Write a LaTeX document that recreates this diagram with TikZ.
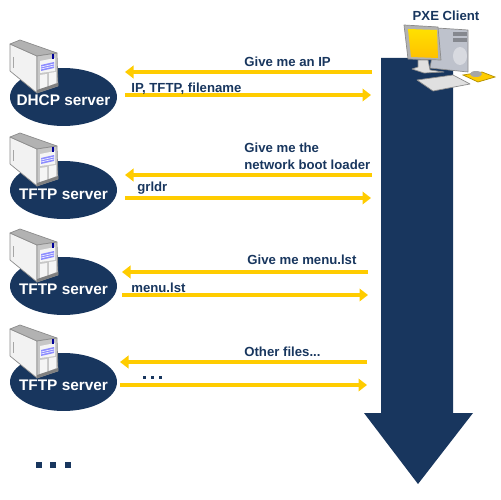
\documentclass[tikz,border=0pt]{standalone}
\usepackage{fontspec}
\setmainfont{Liberation Sans}
\usetikzlibrary{arrows.meta,positioning,shapes.geometric}
\definecolor{navy}{RGB}{24,54,94}
\definecolor{ambr}{RGB}{255,204,0}
\definecolor{silver}{RGB}{190,194,204}
\tikzset{
  srvell/.style ={draw=none, ellipse, fill=navy, minimum width=21.4mm,
                  minimum height=11.6mm, inner sep=0pt},
  srvlbl/.style ={font=\fontsize{8.75}{10}\bfseries\selectfont, text=white,
                  inner sep=0pt},
  msg/.style    ={font=\fontsize{7.5}{9.6}\bfseries\selectfont, text=navy,
                  inner sep=0pt, align=left, anchor=south west},
  req/.style    ={-{Triangle[length=1.7mm,width=2.5mm]}, line width=0.8mm, ambr},
  casing/.style ={draw=black!45, line width=0.4pt, line join=round},
  server/.pic   ={
    \filldraw[casing, fill=black!5] (0,0) -- (27,12) -- (27,49) -- (0,27) -- cycle;
    \filldraw[casing, fill=black!30] (0,0) -- (10,-4) -- (47,9) -- (27,12) -- cycle;
    \filldraw[casing, fill=black!22] (27,12) -- (47,9) -- (48,42) -- (27,49) -- cycle;
    \fill[black!4] (30,17) -- (45,14) -- (45,27) -- (30,29) -- cycle;
    \fill[black!4] (30,31) -- (37,30) -- (37,43) -- (30,45) -- cycle;
    \fill[black!4] (39,29) -- (46,28) -- (46,39) -- (39,42) -- cycle;
    \fill[black!50] (27,46) -- (48,39) -- (48,42) -- (27,49) -- cycle;
    \fill[blue!45] (31,21) -- (44,18) -- (44,24) -- (31,27) -- cycle;
    \draw[white, line width=0.3pt] (31,23) -- (44,20) (31,25) -- (44,22);
    \fill[blue!60!black] (41.5,10) rectangle (43.5,15);
    \draw[black!35] (3,13) -- (3,24);
  },
}
\begin{document}
\begin{tikzpicture}[x=0.02cm,y=-0.02cm]
  \useasboundingbox (0,0) rectangle (500,500);
  % ---- big downward arrow behind the client
  \fill[navy] (381,58) -- (453,58) -- (453,413) -- (473,413)
    -- (418,484) -- (364,413) -- (381,413) -- cycle;
  % ---- client machine
  \node[font=\fontsize{7.5}{9}\bfseries\selectfont, text=navy, inner sep=0pt]
    (client) at (446,16) {PXE Client};
  \filldraw[casing, fill=silver] (437,28) -- (468,30) -- (468,72) -- (430,68) -- cycle;
  \fill[silver!70!black] (453,32) rectangle (467,36.5);
  \fill[silver!70!black] (453,38) rectangle (467,42.5);
  \fill[silver!60] (460,56) ellipse (7 and 9);
  \filldraw[casing, fill=black!12] (418,60) -- (428,60) -- (430,70) -- (444,72)
    -- (424,73) -- (412,69) -- (418,67) -- cycle;
  \filldraw[casing, fill=black!30] (404,25) -- (438,27) -- (441,60) -- (408,59) -- cycle;
  \shade[top color=ambr!60!yellow, bottom color=ambr!85!orange]
    (408,29) -- (437,30) -- (438,58) -- (411,57) -- cycle;
  \filldraw[casing, fill=black!12] (417,80) -- (453,75) -- (470,84) -- (433,91) -- cycle;
  \filldraw[draw=ambr!70!black, fill=ambr] (463,75) -- (482,72) -- (495,77) -- (478,82) -- cycle;
  \fill[black!35] (476,74) ellipse (6 and 3);
  % ---- servers
  \foreach \nm/\yc/\dy/\txt in {srva/97/3/DHCP server,srvb/190/4/TFTP server,
                            srvc/286/3/TFTP server,srvd/382/3/TFTP server}{
    \node[srvell] (\nm) at (63.5,\yc) {};
    \path (10,\yc-53) pic {server};
    \node[srvlbl] (\nm l) at (63.5,\yc+\dy) {\txt};
  }
  % ---- first exchange
  \coordinate (ra) at (372,72);   \coordinate (la) at (125,72);
  \coordinate (lb) at (125,95);   \coordinate (rb) at (371,95);
  \draw[req] (ra) -- (la);
  \draw[req] (lb) -- (rb);
  \node[msg] (ma) at (244,67) {Give me an IP};
  \node[msg] (mb) at (131,95) {IP, TFTP, filename};
  % ---- second exchange
  \coordinate (rc) at (372,175);  \coordinate (lc) at (125,175);
  \coordinate (ld) at (125,198);  \coordinate (rd) at (371,198);
  \draw[req] (rc) -- (lc);
  \draw[req] (ld) -- (rd);
  \node[msg] (mc) at (244,170) {Give me the\\network boot loader};
  \node[msg] (md) at (137,195) {grldr};
  % ---- third exchange
  \coordinate (re) at (368,272);  \coordinate (le) at (122,272);
  \coordinate (lf) at (122,295);  \coordinate (rf) at (368,295);
  \draw[req] (re) -- (le);
  \draw[req] (lf) -- (rf);
  \node[msg] (me) at (247,265) {Give me menu.lst};
  \node[msg] (mf) at (131,293) {menu.lst};
  % ---- fourth exchange
  \coordinate (rg) at (367,362);  \coordinate (lg) at (120,362);
  \coordinate (lh) at (120,385);  \coordinate (rh) at (367,385);
  \draw[req] (rg) -- (lg);
  \draw[req] (lh) -- (rh);
  \node[msg] (mg) at (244,357) {Other files...};
  \foreach \dx in {143,151,159}
    \fill[navy] (\dx,379) rectangle +(3,-3);
  % ---- more servers below
  \foreach \dx in {36,50,65}
    \fill[navy] (\dx,468) rectangle +(6,-6);
\end{tikzpicture}
\end{document}
